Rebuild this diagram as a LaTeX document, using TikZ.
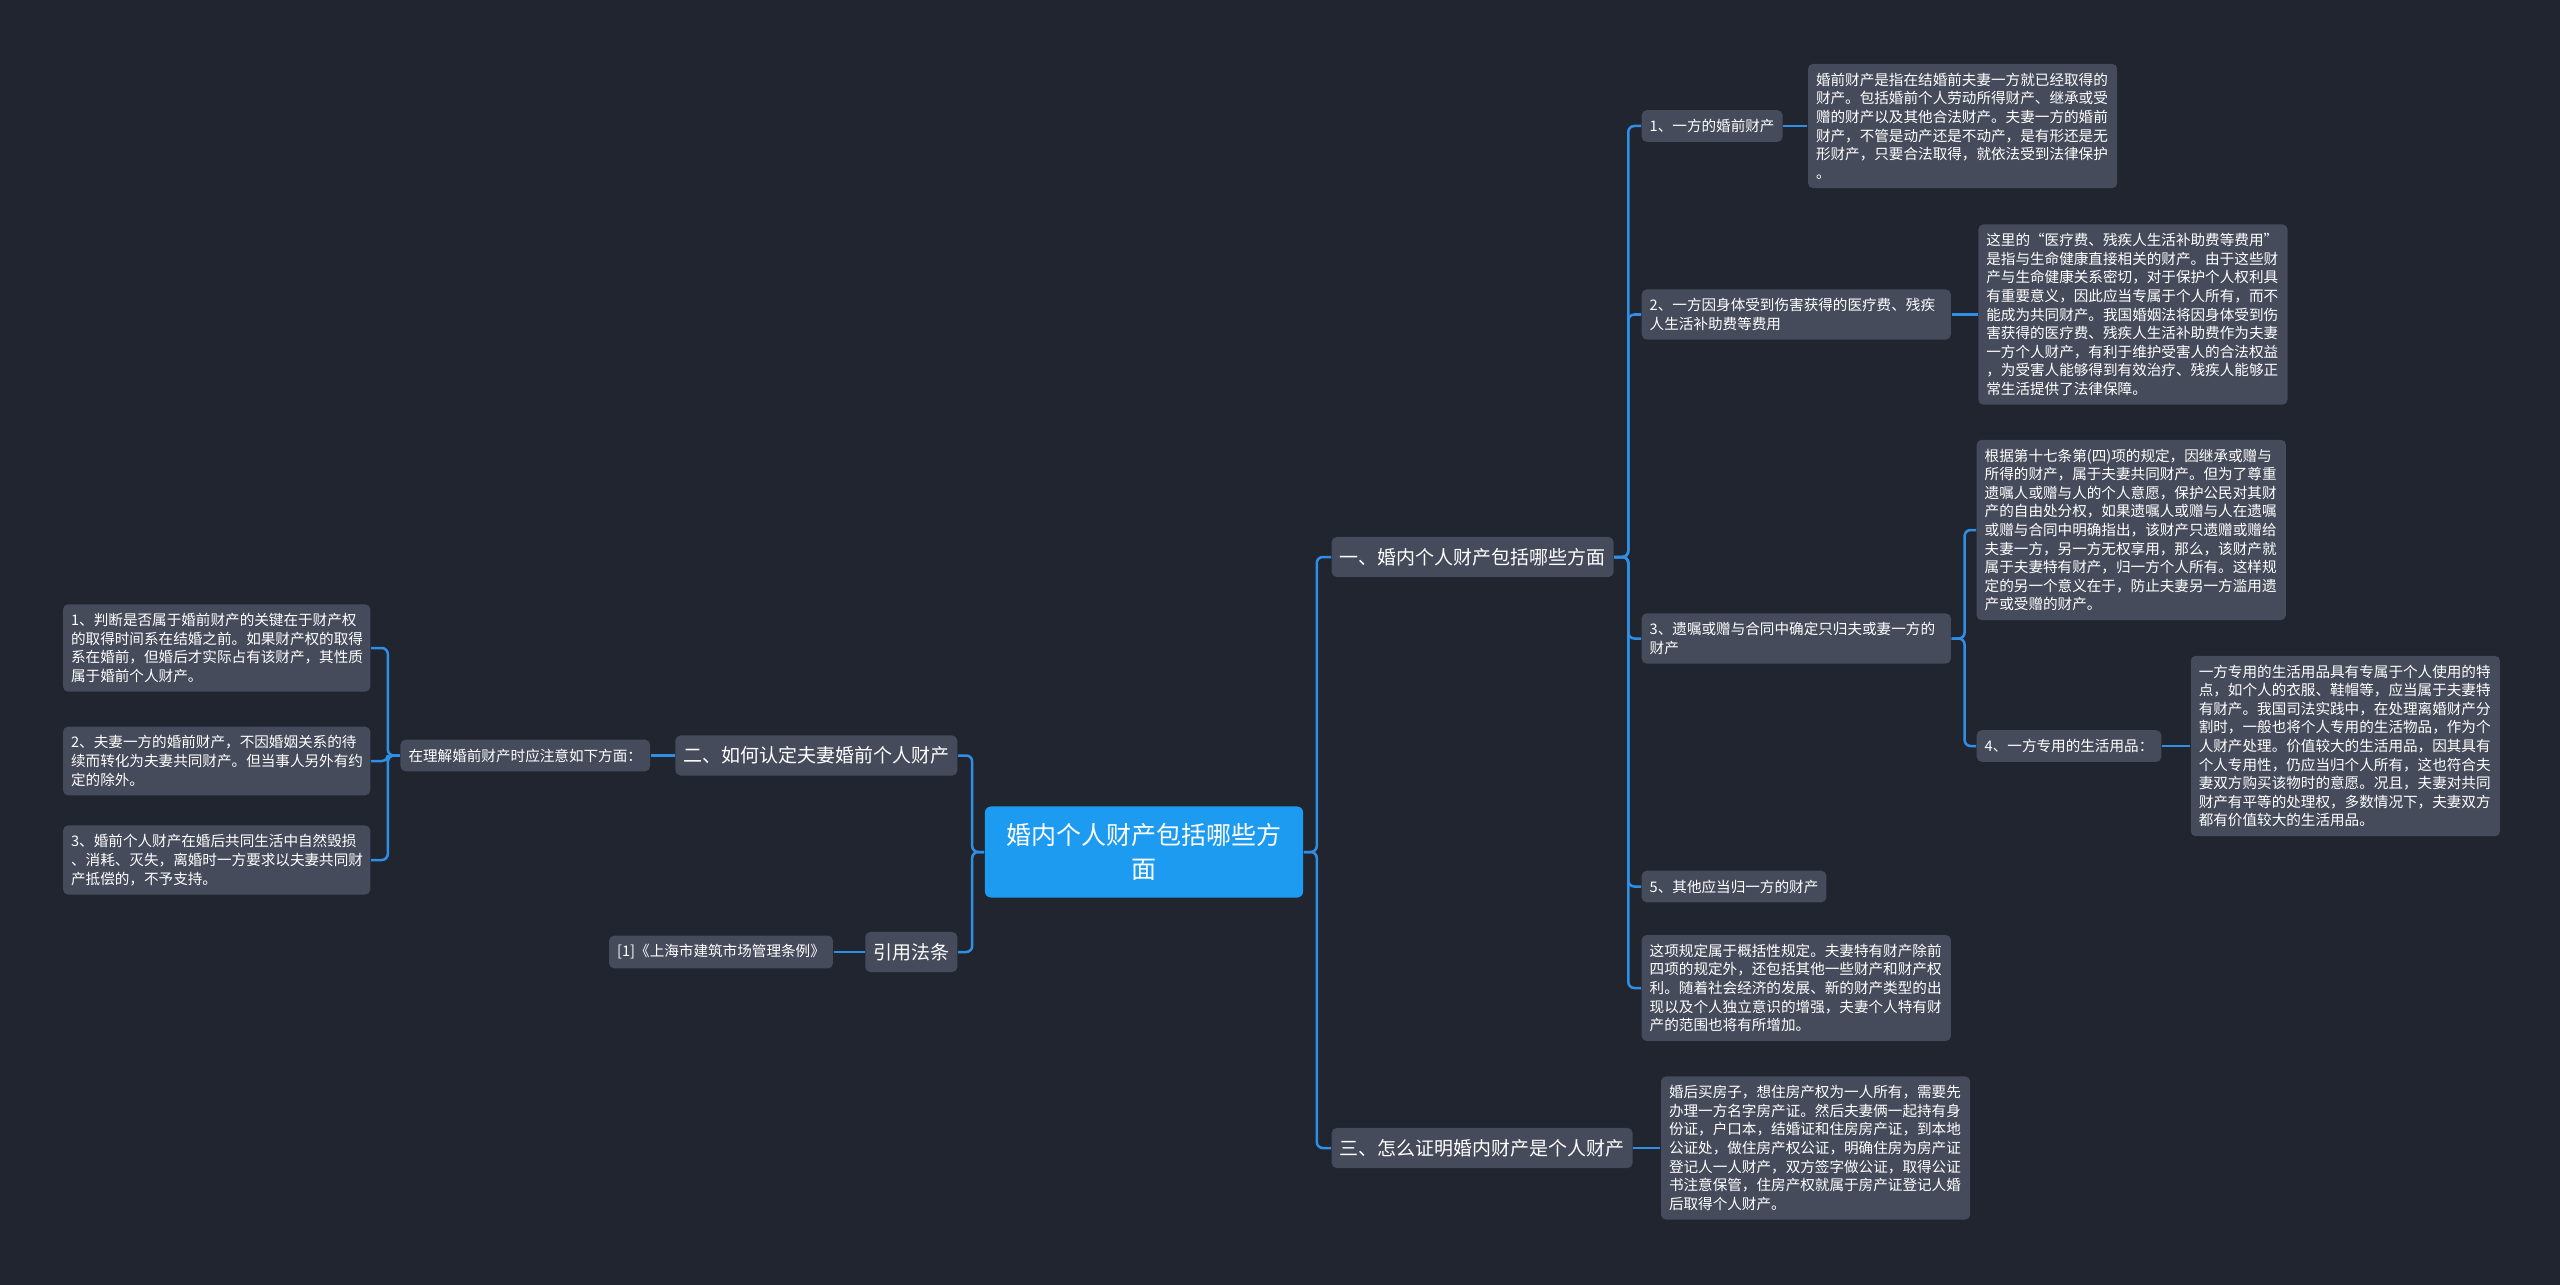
\documentclass[tikz,border=0pt]{standalone}
\usepackage{fontspec}
\setmainfont{Noto Sans CJK SC}
\usetikzlibrary{positioning}

\definecolor{bgcol}{HTML}{21252F}
\definecolor{nodegray}{HTML}{464B5B}
\definecolor{rootblue}{HTML}{1C9BF0}
\definecolor{linkblue}{HTML}{2F8FE6}

\newcommand{\rootfont}{\fontsize{7.11pt}{9.67pt}\selectfont}
\newcommand{\topicfont}{\fontsize{5.4pt}{6.6pt}\selectfont}
\newcommand{\leaffont}{\fontsize{4.15pt}{5.29pt}\selectfont}

\begin{document}
\begin{tikzpicture}[x=0.01cm, y=-0.01cm,
  box/.style={rounded corners=0.05cm, fill=nodegray, text=white, inner xsep=0.08cm},
  root/.style={rounded corners=0.06cm, fill=rootblue, text=white, font=\rootfont, align=center, minimum width=3.18cm, minimum height=0.91cm},
  topic/.style={box, font=\topicfont, inner ysep=0.1cm, minimum height=0.40cm},
  leaf/.style={box, font=\leaffont, inner ysep=0.09cm, minimum height=0.31cm},
  note/.style={leaf, text width=2.93cm, align=left},
  link/.style={draw=linkblue, line width=0.025cm, rounded corners=0.06cm}]
\fill[bgcol] (0,0) rectangle (2560,1285);
\useasboundingbox (0,0) rectangle (2560,1285);

\node[root] (root) at (1144,852) {婚内个人财产包括哪些方\\面};

% right side
\node[topic, anchor=west] (p1) at (1331,557) {一、婚内个人财产包括哪些方面};
\node[topic, anchor=west] (p3) at (1331,1148) {三、怎么证明婚内财产是个人财产};

\node[leaf, anchor=west] (q1) at (1641,126) {1、一方的婚前财产};
\node[note, right=0.24cm of q1] (d1) {婚前财产是指在结婚前夫妻一方就已经取得的\\财产。包括婚前个人劳动所得财产、继承或受\\赠的财产以及其他合法财产。夫妻一方的婚前\\财产，不管是动产还是不动产，是有形还是无\\形财产，只要合法取得，就依法受到法律保护\\。};

\node[note, anchor=west] (q2) at (1641,314.5) {2、一方因身体受到伤害获得的医疗费、残疾\\人生活补助费等费用};
\node[note, right=0.26cm of q2] (d2) {这里的“医疗费、残疾人生活补助费等费用”\\是指与生命健康直接相关的财产。由于这些财\\产与生命健康关系密切，对于保护个人权利具\\有重要意义，因此应当专属于个人所有，而不\\能成为共同财产。我国婚姻法将因身体受到伤\\害获得的医疗费、残疾人生活补助费作为夫妻\\一方个人财产，有利于维护受害人的合法权益\\，为受害人能够得到有效治疗、残疾人能够正\\常生活提供了法律保障。};

\node[note, anchor=west] (q3) at (1641,638.5) {3、遗嘱或赠与合同中确定只归夫或妻一方的\\财产};
\node[note, anchor=west] (d3) at (1976,530) {根据第十七条第(四)项的规定，因继承或赠与\\所得的财产，属于夫妻共同财产。但为了尊重\\遗嘱人或赠与人的个人意愿，保护公民对其财\\产的自由处分权，如果遗嘱人或赠与人在遗嘱\\或赠与合同中明确指出，该财产只遗赠或赠给\\夫妻一方，另一方无权享用，那么，该财产就\\属于夫妻特有财产，归一方个人所有。这样规\\定的另一个意义在于，防止夫妻另一方滥用遗\\产或受赠的财产。};
\node[leaf, anchor=west] (q4) at (1976,746) {4、一方专用的生活用品：};
\node[note, right=0.28cm of q4] (d4) {一方专用的生活用品具有专属于个人使用的特\\点，如个人的衣服、鞋帽等，应当属于夫妻特\\有财产。我国司法实践中，在处理离婚财产分\\割时，一般也将个人专用的生活物品，作为个\\人财产处理。价值较大的生活用品，因其具有\\个人专用性，仍应当归个人所有，这也符合夫\\妻双方购买该物时的意愿。况且，夫妻对共同\\财产有平等的处理权，多数情况下，夫妻双方\\都有价值较大的生活用品。};

\node[leaf, anchor=west] (q5) at (1641,886.5) {5、其他应当归一方的财产};
\node[note, anchor=west] (d5) at (1641,988) {这项规定属于概括性规定。夫妻特有财产除前\\四项的规定外，还包括其他一些财产和财产权\\利。随着社会经济的发展、新的财产类型的出\\现以及个人独立意识的增强，夫妻个人特有财\\产的范围也将有所增加。};

\node[note, right=0.27cm of p3] (d6) {婚后买房子，想住房产权为一人所有，需要先\\办理一方名字房产证。然后夫妻俩一起持有身\\份证，户口本，结婚证和住房房产证，到本地\\公证处，做住房产权公证，明确住房为房产证\\登记人一人财产，双方签字做公证，取得公证\\书注意保管，住房产权就属于房产证登记人婚\\后取得个人财产。};

% left side
\node[topic, anchor=east] (p2) at (958,755.5) {二、如何认定夫妻婚前个人财产};
\node[topic, anchor=east] (law) at (958,952) {引用法条};
\node[leaf, left=0.24cm of p2] (tip) {在理解婚前财产时应注意如下方面：};
\node[leaf, left=0.31cm of law] (ref) {[1]《上海市建筑市场管理条例》};

\node[note, text width=2.91cm, anchor=east] (l1) at (371,648) {1、判断是否属于婚前财产的关键在于财产权\\的取得时间系在结婚之前。如果财产权的取得\\系在婚前，但婚后才实际占有该财产，其性质\\属于婚前个人财产。};
\node[note, text width=2.91cm, anchor=east] (l2) at (371,761) {2、夫妻一方的婚前财产，不因婚姻关系的待\\续而转化为夫妻共同财产。但当事人另外有约\\定的除外。};
\node[note, text width=2.91cm, anchor=east] (l3) at (371,860) {3、婚前个人财产在婚后共同生活中自然毁损\\、消耗、灭失，离婚时一方要求以夫妻共同财\\产抵偿的，不予支持。};

% connectors
\foreach \c in {p1,p3} \draw[link] (root.east) -- ++(13,0) |- (\c.west);
\foreach \c in {p2,law} \draw[link] (root.west) -- ++(-12,0) |- (\c.east);
\foreach \c in {q1,q2,q3,q5,d5} \draw[link] (p1.east) -- ++(14,0) |- (\c.west);
\foreach \c in {d3,q4} \draw[link] (q3.east) -- ++(13,0) |- (\c.west);
\foreach \c in {l1,l2,l3} \draw[link] (tip.west) -- ++(-12,0) |- (\c.east);
\draw[link] (q1.east) -- (d1.west);
\draw[link] (q2.east) -- (d2.west);
\draw[link] (q4.east) -- (d4.west);
\draw[link] (p3.east) -- (d6.west);
\draw[link] (p2.west) -- (tip.east);
\draw[link] (law.west) -- (ref.east);
\end{tikzpicture}
\end{document}
